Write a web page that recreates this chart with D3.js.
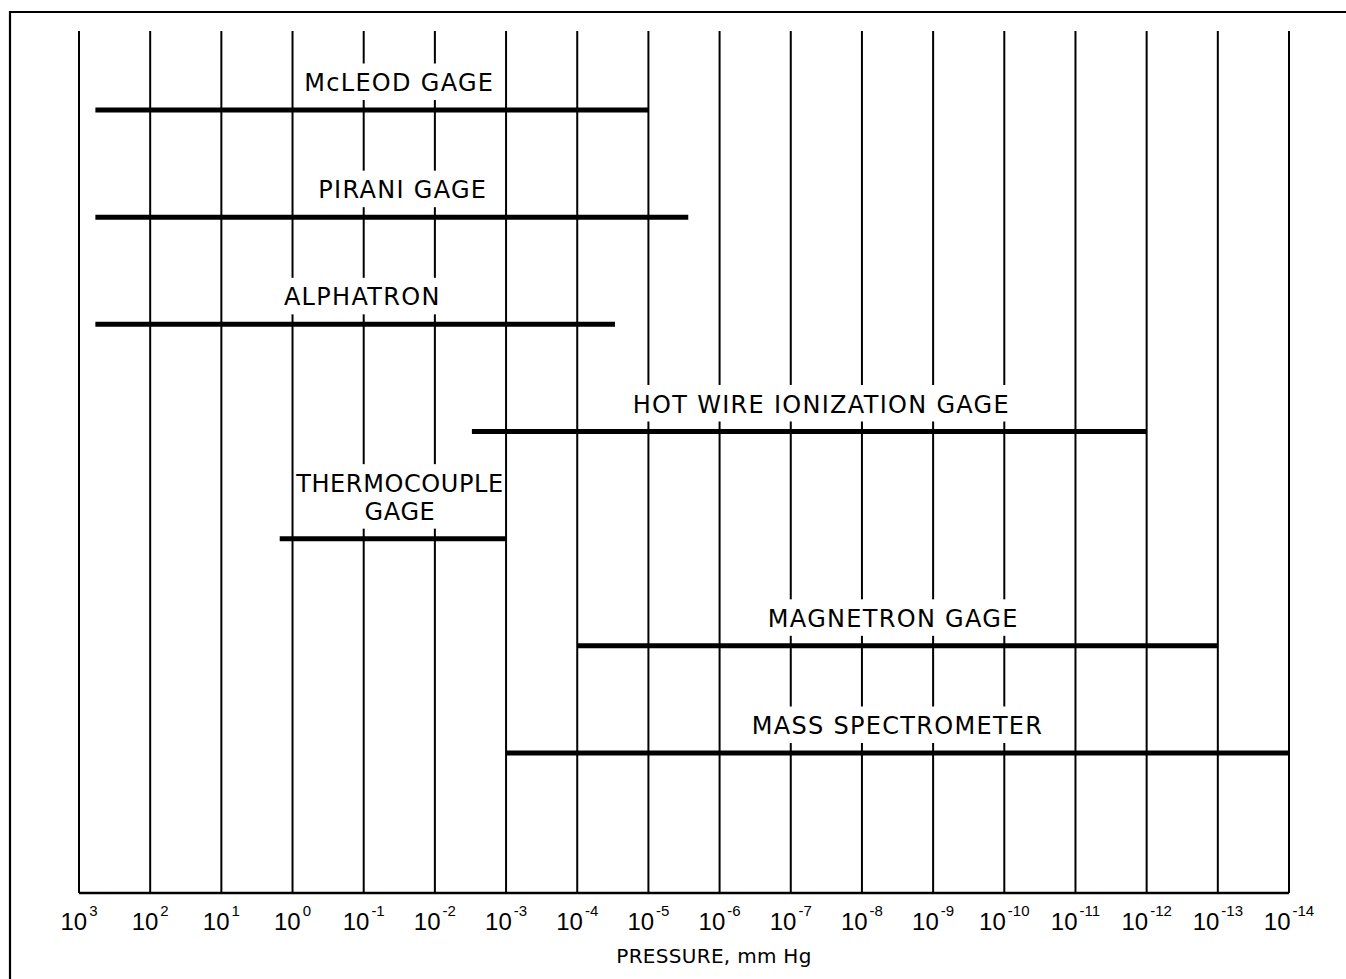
<!DOCTYPE html>
<html>
<head>
<meta charset="utf-8">
<script src="https://cdn.jsdelivr.net/npm/d3@7"></script>
<style>
  body { margin: 0; background: #fff; }
  svg { display: block; }
</style>
</head>
<body>
<svg></svg>
<script>
// pressure decades, log10(mm Hg)
const decades = [3, 2, 1, 0, -1, -2, -3, -4, -5, -6, -7, -8, -9, -10, -11, -12, -13, -14];

// gauges, top to bottom, with their working range (log10 mm Hg)
const gauges = ["McLEOD GAGE", "PIRANI GAGE", "ALPHATRON", "HOT WIRE IONIZATION GAGE",
  "THERMOCOUPLE|GAGE", "MAGNETRON GAGE", "MASS SPECTROMETER"];
const rangeHigh = [2.77, 2.77, 2.77, -2.52, 0.18, -4, -3];
const rangeLow = [-5, -5.56, -4.53, -12, -3, -13, -14];
// where each name sits along the pressure axis
const labelAt = [-1.5, -1.55, -0.98, -7.43, -1.51, -8.44, -8.5];

const W = 1346, H = 979;
const svg = d3.select("svg")
    .attr("width", W)
    .attr("height", H);

const gridTop = 31, axisY = 893;

let xScale = d3.scaleLinear()
  .domain([3, -14])
  .range([79, 1289]);
let yScale = d3.scalePoint()
  .domain(gauges)
  .range([110, 753]);

// outer frame (only top and left edges show)
svg.append("path")
    .attr("d", "M10," + H + "V12H" + W)
    .attr("fill", "none")
    .attr("stroke", "#000")
    .attr("stroke-width", 2.2);

// vertical decade lines
svg.append("g").selectAll("line")
    .data(decades)
  .enter().append("line")
    .attr("x1", d => xScale(d))
    .attr("x2", d => xScale(d))
    .attr("y1", gridTop)
    .attr("y2", axisY)
    .attr("stroke", "#000")
    .attr("stroke-width", 2);

// bottom axis line
svg.append("line")
    .attr("x1", xScale(3))
    .attr("x2", xScale(-14))
    .attr("y1", axisY)
    .attr("y2", axisY)
    .attr("stroke", "#000")
    .attr("stroke-width", 2.6);

// tick labels: 10 with a raised exponent
const tickText = svg.append("g").selectAll("text")
    .data(decades)
  .enter().append("text")
    .attr("x", d => xScale(d))
    .attr("y", 930)
    .attr("text-anchor", "middle")
    .attr("font-family", "'Liberation Sans', sans-serif")
    .attr("fill", "#000");
tickText.append("tspan")
    .attr("font-size", 24)
    .text("10");
tickText.append("tspan")
    .attr("font-size", 15)
    .attr("dx", 2)
    .attr("dy", -14)
    .text(d => String(d));

svg.append("text")
    .attr("x", 714)
    .attr("y", 963)
    .attr("text-anchor", "middle")
    .attr("font-family", "'DejaVu Sans', sans-serif")
    .attr("font-size", 20)
    .attr("letter-spacing", 0.3)
    .text("PRESSURE, mm Hg");

// gauge names with white boxes cutting the grid lines
const capH = 17.5, lineGap = 28;
gauges.forEach(function(name, i) {
  const lines = name.split("|");
  const barY = yScale(name);
  const lastBase = barY - 19;
  const firstBase = lastBase - (lines.length - 1) * lineGap;
  const g = svg.append("g");
  const box = g.append("rect").attr("fill", "#fff");
  const t = g.append("text")
      .attr("text-anchor", "middle")
      .attr("font-family", "'DejaVu Sans', sans-serif")
      .attr("font-size", 24)
      .attr("letter-spacing", lines.length > 1 ? 0.6 : 1.3);
  lines.forEach(function(s, j) {
    t.append("tspan")
        .attr("x", xScale(labelAt[i]))
        .attr("y", firstBase + j * lineGap)
        .text(s);
  });
  const bb = t.node().getBBox();
  // keep the box inside the glyphs so neighbouring lines stay whole
  box.attr("x", bb.x + 2)
      .attr("width", bb.width - 4)
      .attr("y", firstBase - capH - 10)
      .attr("height", lastBase - firstBase + capH + 19);
});

// range bars
svg.append("g").selectAll("line")
    .data(gauges)
  .enter().append("line")
    .attr("x1", (d, i) => xScale(rangeHigh[i]))
    .attr("x2", (d, i) => xScale(rangeLow[i]))
    .attr("y1", d => yScale(d))
    .attr("y2", d => yScale(d))
    .attr("stroke", "#000")
    .attr("stroke-width", 5);
</script>
</body>
</html>
